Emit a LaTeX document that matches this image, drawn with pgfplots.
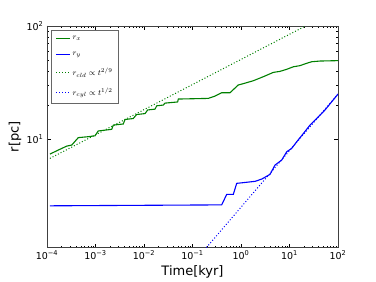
\documentclass[border=0pt]{standalone}
\usepackage{fontspec}
\setmainfont{DejaVu Sans}
\usepackage{pgfplots}
\pgfplotsset{compat=1.18}
\definecolor{mgreen}{RGB}{0,128,0}
\definecolor{mblue}{RGB}{0,0,255}
\begin{document}
\begin{tikzpicture}
\useasboundingbox (-47pt,-34.5pt) rectangle (329pt,247.5pt);
\begin{axis}[
  at={(0,0)}, anchor=south west,
  scale only axis, width=291pt, height=221.5pt,
  xmode=log, ymode=log,
  xmin=1e-4, xmax=1e2, ymin=1.1, ymax=100,
  axis line style={black!75, line width=0.7pt},
  tick style={black, line width=0.5pt},
  major tick length=4pt, minor tick length=2pt,
  xtick={1e-4,1e-3,1e-2,1e-1,1,10,100},
  xticklabels={10\textsuperscript{−4},10\textsuperscript{−3},10\textsuperscript{−2},10\textsuperscript{−1},10\textsuperscript{0},10\textsuperscript{1},10\textsuperscript{2}},
  ytick={10,100},
  yticklabels={10\textsuperscript{1},10\textsuperscript{2}},
  tick label style={font=\fontsize{9.5}{10}\selectfont},
  xlabel={Time[kyr]}, ylabel={r[pc]},
  label style={font=\fontsize{13}{14}\selectfont},
  xlabel style={at={(axis description cs:0.5,-0.11)}, anchor=center},
  ylabel style={at={(axis description cs:-0.11,0.5)}, anchor=center, rotate=0},
  legend cell align=left,
  legend style={at={(0.014,0.982)}, anchor=north west, draw=black!60, line width=0.8pt,
    font=\fontsize{8}{9}\selectfont, inner sep=4pt, row sep=7pt,
    /tikz/every even column/.append style={column sep=7pt}},
  legend image code/.code={\draw[#1, line width=1.1pt] (0pt,0pt) -- (14pt,0pt);},
]
\addplot[mgreen, line width=1.1pt] coordinates {
(1.15e-4,7.37) (1.71e-4,8.0) (2.55e-4,8.67) (3.23e-4,8.85) (4.42e-4,10.3)
(7.1e-4,10.5) (9.8e-4,10.7) (1.14e-3,11.8) (2.16e-3,12.2) (2.33e-3,13.3)
(3.74e-3,13.6) (4.06e-3,14.9) (6.0e-3,15.2) (7.06e-3,16.5) (1.05e-2,16.8)
(1.19e-2,18.1) (1.69e-2,18.4) (1.83e-2,19.7) (2.5e-2,20.0) (2.71e-2,20.8)
(4.95e-2,21.3) (5.09e-2,22.6) (0.212,22.9) (0.291,24.0) (0.40,25.7)
(0.593,25.7) (0.88,30.1) (1.11,30.9) (1.79,32.8) (2.88,35.6) (4.64,38.9)
(6.37,39.7) (8.75,41.4) (12.0,43.6) (16.4,44.6) (22.6,46.8) (28.7,48.3)
(42.6,49.0) (100,49.4)};
\addlegendentry{$r_x$}
\addplot[mblue, line width=1.1pt] coordinates {
(1.15e-4,2.57) (0.40,2.62) (0.507,3.24) (0.694,3.24) (0.815,4.06) (1.95,4.23)
(2.67,4.43) (3.96,4.87) (5.02,5.89) (6.9,6.52) (8.75,7.72) (11.1,8.28)
(14.1,9.47) (19.3,11.2) (26.5,13.3) (36.4,15.2) (54.0,18.1) (100,25.0)};
\addlegendentry{$r_y$}
\addplot[mgreen, dotted, line width=1pt] coordinates {(1.15e-4,6.75) (21.4,100)};
\addlegendentry{$r_{cld}\propto t^{2/9}$}
\addplot[mblue, dotted, line width=1pt] coordinates {(0.194,1.1) (100,25)};
\addlegendentry{$r_{cyl}\propto t^{1/2}$}
\end{axis}
\end{tikzpicture}
\end{document}
